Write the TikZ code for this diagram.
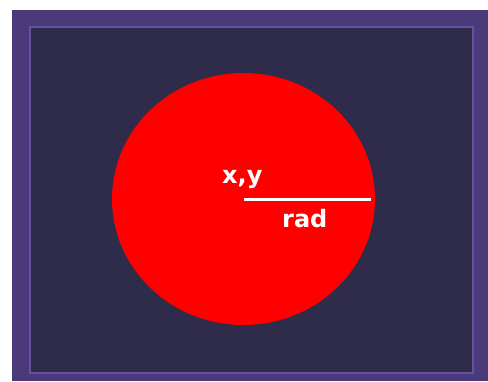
\documentclass[tikz,border=0pt]{standalone}
\usepackage{fontspec}
\setmainfont{DejaVu Sans}
\usepackage{tikz}
\usetikzlibrary{positioning}
\definecolor{framepurple}{RGB}{74,58,122}
\definecolor{framelight}{RGB}{104,80,160}
\definecolor{panelnavy}{RGB}{46,43,75}
\definecolor{discred}{RGB}{255,0,0}
\tikzset{
  label text/.style={text=white, font=\bfseries\fontsize{24}{24}\selectfont, inner sep=0pt, anchor=base west}
}
\begin{document}
\begin{tikzpicture}[x=1pt, y=-1pt]
\useasboundingbox (0,0) rectangle (488,381);
% Frame
\fill[framepurple] (12,10) rectangle (488,381);
\draw[framelight, line width=2pt] (30,27) rectangle (473,373);
% Panel
\fill[panelnavy] (31,28) rectangle (472,372);

% Disc
\coordinate (centre) at (243.5,199);
\coordinate (rim) at (371,199);
\fill[discred] (centre) ellipse [x radius=131.5, y radius=126];

% Radius and labels
\draw[white, line width=3pt] (centre) -- (rim);
\node[label text] (xy) at (222,183) {x,y};
\node[label text] (rad) at (282,227) {rad};
\end{tikzpicture}
\end{document}
